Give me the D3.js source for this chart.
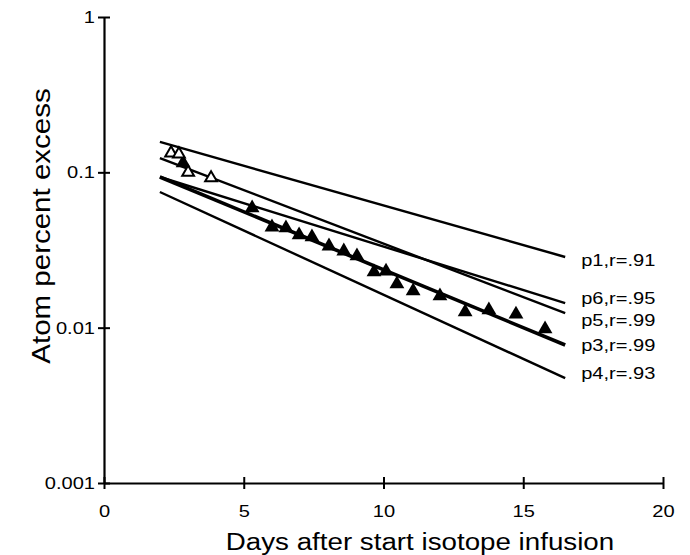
<!DOCTYPE html>
<html>
<head>
<meta charset="utf-8">
<script src="https://cdn.jsdelivr.net/npm/d3@7"></script>
<style>
  body { margin: 0; background: #fff; }
  text { font-family: "Liberation Sans", Arial, sans-serif; fill: #000; }
</style>
</head>
<body>
<svg id="chart" width="690" height="555"></svg>
<script>
// measured data (days after start, atom percent excess)
const openDays = [2.4, 2.68, 3.01, 3.83];
const openApe = [0.133, 0.131, 0.100, 0.092];
const filledDays = [2.83, 5.30, 6.01, 6.51, 6.98, 7.44, 8.05, 8.58, 9.05, 9.66, 10.09, 10.48, 11.06, 12.02, 12.92, 13.77, 14.74, 15.78];
const filledApe = [0.115, 0.0589, 0.0444, 0.0438, 0.0395, 0.0383, 0.0335, 0.0311, 0.0289, 0.0228, 0.0231, 0.0191, 0.0172, 0.0160, 0.0126, 0.0130, 0.0122, 0.0098];

// regression lines, drawn from day 2 to day 16.5
const fitNames = ["p1,r=.91", "p6,r=.95", "p5,r=.99", "p3,r=.99", "p4,r=.93"];
const fitStart = [0.157, 0.0933, 0.1236, 0.0933, 0.0747];
const fitEnd = [0.0285, 0.0144, 0.0124, 0.00773, 0.00473];
const fitDays = [2, 16.5];

const xTicks = [0, 5, 10, 15, 20];
const yTicks = [0.001, 0.01, 0.1, 1];
const yTickLabels = ["0.001", "0.01", "0.1", "1"];

const svg = d3.select("#chart");
const stretch = 1.18;

const x = d3.scaleLinear().domain([0, 20]).range([104, 663]);
const y = d3.scaleLog().domain([0.001, 1]).range([483, 17]);

function widen(sel) {
  sel.each(function () {
    const w = this.getComputedTextLength();
    d3.select(this).attr("textLength", w * stretch).attr("lengthAdjust", "spacingAndGlyphs");
  });
}

// y axis
const yAxis = svg.append("g")
  .attr("transform", "translate(" + x(0) + ",0)")
  .call(d3.axisLeft(y).tickValues(yTicks).tickFormat((d, i) => yTickLabels[i]).tickSizeOuter(0).tickSizeInner(6));
yAxis.select(".domain").attr("stroke", "#000").attr("stroke-width", 2.2);
yAxis.selectAll(".tick line").attr("x1", -6).attr("x2", 6).attr("stroke-width", 2);
yAxis.selectAll(".tick text").attr("x", -9).style("font-size", "17px").attr("font-family", null).call(widen);

// x axis
const xAxis = svg.append("g")
  .attr("transform", "translate(0," + y(0.001) + ")")
  .call(d3.axisBottom(x).tickValues(xTicks).tickSizeOuter(0).tickSizeInner(6));
xAxis.select(".domain").attr("stroke", "#000").attr("stroke-width", 2.2);
xAxis.selectAll(".tick line").attr("y1", -6).attr("y2", 6).attr("stroke-width", 2);
xAxis.selectAll(".tick text").attr("y", 22).style("font-size", "17px").attr("font-family", null).call(widen);

// regression lines
const line = d3.line().x(d => x(d[0])).y(d => y(d[1]));
fitNames.forEach((name, i) => {
  svg.append("path")
    .attr("d", line([[fitDays[0], fitStart[i]], [fitDays[1], fitEnd[i]]]))
    .attr("fill", "none")
    .attr("stroke", "#000")
    .attr("stroke-width", name.startsWith("p3") ? 3.6 : 2.4);
});

// labels next to line ends
const labelDy = [3, -5, 7, 0, -5];
svg.append("g").selectAll("text")
  .data(fitNames)
  .join("text")
  .attr("x", x(fitDays[1]) + 16)
  .attr("y", (d, i) => y(fitEnd[i]) + labelDy[i])
  .attr("dy", "0.35em")
  .style("font-size", "17px")
  .text(d => d)
  .call(widen);

// points
const tri = d3.symbol().type(d3.symbolTriangle);
svg.append("g").selectAll("path")
  .data(filledDays)
  .join("path")
  .attr("transform", (d, i) => "translate(" + x(d) + "," + y(filledApe[i]) + ")")
  .attr("d", tri.size(95)())
  .attr("fill", "#000");

svg.append("g").selectAll("path")
  .data(openDays)
  .join("path")
  .attr("transform", (d, i) => "translate(" + x(d) + "," + y(openApe[i]) + ")")
  .attr("d", tri.size(60)())
  .attr("fill", "#fff")
  .attr("stroke", "#000")
  .attr("stroke-width", 2);

// axis titles
svg.append("text")
  .attr("x", 420)
  .attr("y", 550)
  .attr("text-anchor", "middle")
  .style("font-size", "23.5px")
  .text("Days after start isotope infusion")
  .call(widen);

svg.append("text")
  .attr("transform", "translate(50,226) rotate(-90)")
  .attr("text-anchor", "middle")
  .style("font-size", "25px")
  .text("Atom percent excess")
  .call(widen);
</script>
</body>
</html>
